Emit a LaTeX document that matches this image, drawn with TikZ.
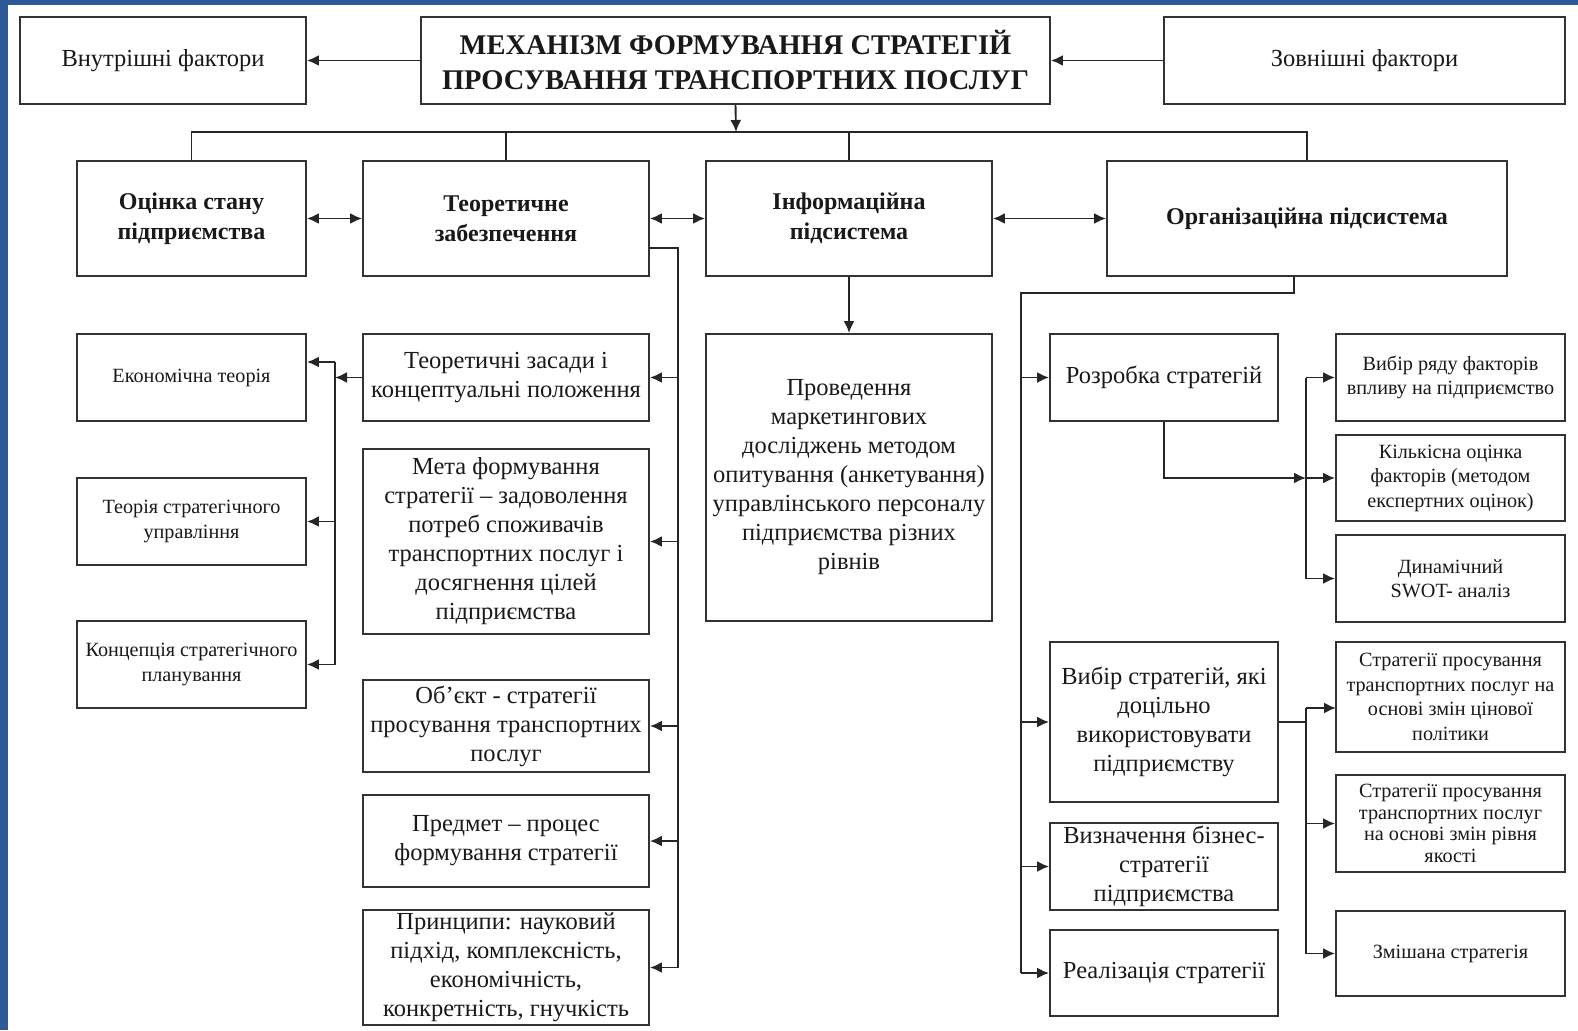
\documentclass[tikz,border=0pt]{standalone}
\usepackage{fontspec}
\setmainfont{Liberation Serif}
\usetikzlibrary{arrows.meta}
\definecolor{frameblue}{RGB}{45,89,150}
\tikzset{
  box/.style={draw=black!80, line width=1.9pt, fill=white, inner sep=0pt, align=center, text=black!90},
  ttl/.style={font=\fontsize{28.5}{35}\selectfont\bfseries},
  hd/.style={font=\fontsize{24}{30}\selectfont\bfseries},
  txt/.style={font=\fontsize{24.5}{29}\selectfont},
  sm/.style={font=\fontsize{20.2}{24.5}\selectfont},
  smt/.style={font=\fontsize{20.2}{21.5}\selectfont},
  ln/.style={line width=1.9pt, draw=black!85},
  arr/.style={ln, -{Latex[length=12pt,width=11pt]}},
  darr/.style={ln, {Latex[length=12pt,width=11pt]}-{Latex[length=12pt,width=11pt]}},
}
\newcommand\bx[7][]{%
  \node[box,#1,minimum width={(#5-#3)*1pt},minimum height={(#6-#4)*1pt}] (#2) at ({(#3+#5)/2},{(#4+#6)/2}) {#7};}
\begin{document}
\begin{tikzpicture}[x=1pt,y=-1pt]
\useasboundingbox (0,0) rectangle (1578,1030);
\fill[white] (0,0) rectangle (1578,1030);
\fill[frameblue] (0,0) rectangle (1578,5);
\fill[frameblue] (0,0) rectangle (8,1030);

% top row
\bx[txt]{vnut}{20}{17}{306}{104}{Внутрішні фактори}
\bx[ttl]{title}{421}{17}{1050}{104}{МЕХАНІЗМ ФОРМУВАННЯ СТРАТЕГІЙ\\ПРОСУВАННЯ ТРАНСПОРТНИХ ПОСЛУГ}
\bx[txt]{zovn}{1164}{17}{1565}{104}{Зовнішні фактори}

% second row
\bx[hd]{ocin}{77}{161}{306}{276}{Оцінка стану\\підприємства}
\bx[hd]{teor}{363}{161}{649}{276}{Теоретичне\\забезпечення}
\bx[hd]{inf}{706}{161}{992}{276}{Інформаційна\\підсистема}
\bx[hd]{org}{1107}{161}{1507}{276}{Організаційна підсистема}

% left column
\bx[sm]{ek}{77}{334}{306}{421}{Економічна теорія}
\bx[sm]{tsu}{77}{478}{306}{565}{Теорія стратегічного\\управління}
\bx[sm]{ksp}{77}{621}{306}{708}{Концепція стратегічного\\планування}

% theory column
\bx[txt]{zas}{363}{334}{649}{421}{Теоретичні засади і\\концептуальні положення}
\bx[txt]{meta}{363}{449}{649}{634}{Мета формування\\стратегії – задоволення\\потреб споживачів\\транспортних послуг і\\досягнення цілей\\підприємства}
\bx[txt]{obj}{363}{680}{649}{772}{Об'єкт - стратегії\\просування транспортних\\послуг}
\bx[txt]{pred}{363}{795}{649}{887}{Предмет – процес\\формування стратегії}
\bx[txt]{princ}{363}{910}{649}{1025}{Принципи: науковий\\підхід, комплексність,\\економічність,\\конкретність, гнучкість}

% information column
\bx[txt]{prov}{706}{334}{992}{621}{Проведення\\маркетингових\\досліджень методом\\опитування (анкетування)\\управлінського персоналу\\підприємства різних\\рівнів}

% organisation column
\bx[txt]{roz}{1050}{334}{1278}{421}{Розробка стратегій}
\bx[txt]{vyb}{1050}{642}{1278}{802}{Вибір стратегій, які\\доцільно\\використовувати\\підприємству}
\bx[txt]{viz}{1050}{823}{1278}{910}{Визначення бізнес-\\стратегії\\підприємства}
\bx[txt]{real}{1050}{930}{1278}{1016}{Реалізація стратегії}

% right column
\bx[sm]{vr}{1336}{334}{1565}{421}{Вибір ряду факторів\\впливу на підприємство}
\bx[sm]{ko}{1336}{435}{1565}{521}{Кількісна оцінка\\факторів (методом\\експертних оцінок)}
\bx[sm]{swot}{1336}{535}{1565}{622}{Динамічний\\SWOT- аналіз}
\bx[sm]{sc}{1336}{642}{1565}{752}{Стратегії просування\\транспортних послуг на\\основі змін цінової\\політики}
\bx[smt]{sy}{1336}{775}{1565}{872}{Стратегії просування\\транспортних послуг\\на основі змін рівня\\якості}
\bx[sm]{zm}{1336}{911}{1565}{996}{Змішана стратегія}

% helper coordinates
\coordinate (bus) at (736,132);
\coordinate (tb) at (678,248);
\coordinate (lb) at (335,362);
\coordinate (ob) at (1021,293);
\coordinate (rb) at (1306,478);
\coordinate (rb2) at (1306,722);

% top connectors
\draw[arr] (title.west) -- (vnut.east);
\draw[arr] (zovn.west) -- (title.east);
\draw[arr] (title.south) -- (bus);
\draw[ln] (ocin.north) -- (ocin.north |- bus) -- (org.north |- bus) -- (org.north);
\draw[ln] (teor.north) -- (teor.north |- bus);
\draw[ln] (inf.north) -- (inf.north |- bus);

% second row double arrows
\draw[darr] (ocin.east) -- (teor.west);
\draw[darr] (teor.east) -- (inf.west);
\draw[darr] (inf.east) -- (org.west);

% theory branch
\draw[ln] (teor.east |- tb) -- (tb) -- (tb |- princ.east);
\draw[arr] (tb |- zas.east) -- (zas.east);
\draw[arr] (tb |- meta.east) -- (meta.east);
\draw[arr] (tb |- obj.east) -- (obj.east);
\draw[arr] (tb |- pred.east) -- (pred.east);
\draw[arr] (tb |- princ.east) -- (princ.east);

% left branch
\draw[arr] (zas.west) -- (lb |- zas.west);
\draw[ln] (lb) -- (lb |- ksp.east);
\draw[arr] (lb) -- (ek.east |- lb);
\draw[arr] (lb |- tsu.east) -- (tsu.east);
\draw[arr] (lb |- ksp.east) -- (ksp.east);

% information branch
\draw[arr] (inf.south) -- (prov.north);

% organisation branch
\draw[ln] (org.south -| 1294,0) -- (1294,293) -- (ob) -- (ob |- real.west);
\draw[arr] (ob |- roz.west) -- (roz.west);
\draw[arr] (ob |- vyb.west) -- (vyb.west);
\draw[arr] (ob |- viz.west) -- (viz.west);
\draw[arr] (ob |- real.west) -- (real.west);

% development branch
\draw[arr] (roz.south) -- (roz.south |- rb) -- (rb);
\draw[arr] (rb) -- (ko.west);
\draw[ln] (rb |- vr.west) -- (rb |- swot.west);
\draw[arr] (rb |- vr.west) -- (vr.west);
\draw[arr] (rb |- swot.west) -- (swot.west);

% choice branch
\coordinate (sca) at (1336,708);
\draw[ln] (vyb.east) -- (rb2);
\draw[ln] (rb2 |- sca) -- (rb2 |- zm.west);
\draw[arr] (rb2 |- sca) -- (sca);
\draw[arr] (rb2 |- sy.west) -- (sy.west);
\draw[arr] (rb2 |- zm.west) -- (zm.west);
\end{tikzpicture}
\end{document}
